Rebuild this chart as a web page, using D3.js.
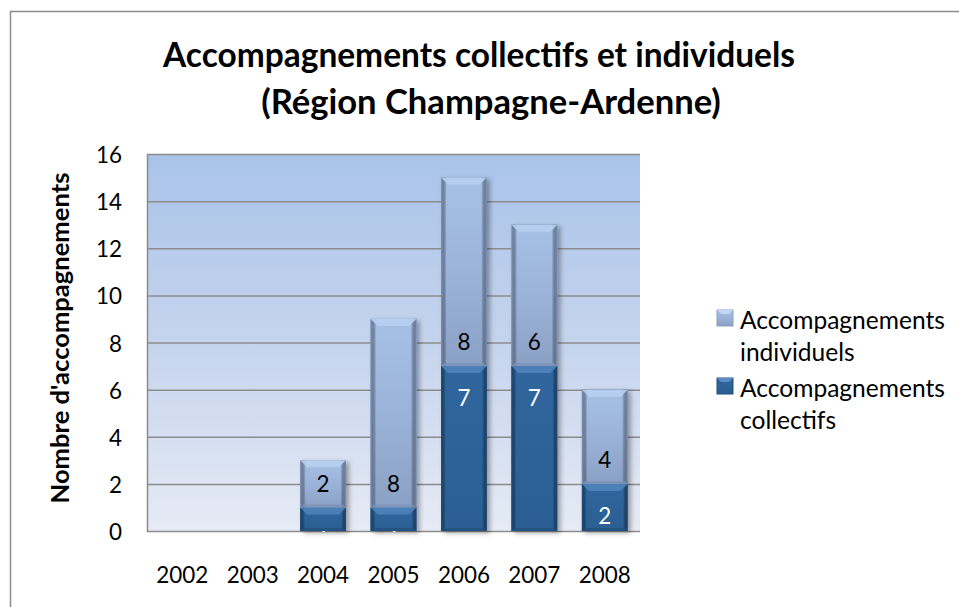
<!DOCTYPE html>
<html><head><meta charset="utf-8">
<script src="https://cdn.jsdelivr.net/npm/d3@7"></script>
<style>html,body{margin:0;padding:0;background:#fff;}svg{display:block;}</style>
</head><body>
<script>
const years = ["2002","2003","2004","2005","2006","2007","2008"];
const collectifs = [0,0,1,1,7,7,2];
const individuels = [0,0,2,8,8,6,4];
const yTicks = [0,2,4,6,8,10,12,14,16];
const seriesNames = ["Accompagnements collectifs","Accompagnements individuels"];
const titleLines = ["Accompagnements collectifs et individuels","(Région Champagne-Ardenne)"];
const yTitle = "Nombre d'accompagnements";

const W=959,H=607;
const FONT="Lato, 'Open Sans', sans-serif";
const svg=d3.select("body").append("svg").attr("width",W).attr("height",H);
const defs=svg.append("defs");

function fit(t,w){const l=t.node().getComputedTextLength();const fs=parseFloat(t.attr("font-size"));t.attr("font-size",fs*w/l);}

// number font size fitted so "2002" spans ~52px
const probe=svg.append("text").attr("font-family",FONT).attr("font-size",20).text(years[0]);
fit(probe,52);
const NFS=parseFloat(probe.attr("font-size"));
probe.remove();

// frame
svg.append("rect").attr("x",10.5).attr("y",11.5).attr("width",W+20).attr("height",H+20)
  .attr("fill","#fff").attr("stroke","#8e8e8e").attr("stroke-width",1.5);

const x=d3.scaleBand().domain(years).range([147,640]).paddingInner(0.35).paddingOuter(0.175);
const y=d3.scaleLinear().domain([0,16]).range([531,154]);

// plot bg
const bg=defs.append("linearGradient").attr("id","bg").attr("x1",0).attr("y1",0).attr("x2",0).attr("y2",1);
bg.append("stop").attr("offset",0).attr("stop-color","#a9c3e9");
bg.append("stop").attr("offset",0.55).attr("stop-color","#c8d6ee");
bg.append("stop").attr("offset",1).attr("stop-color","#e6ebf5");
svg.append("rect").attr("x",x.range()[0]).attr("y",y(16)).attr("width",x.range()[1]-x.range()[0]).attr("height",y(0)-y(16)).attr("fill","url(#bg)");

// grid
svg.append("g").selectAll("line").data(yTicks).join("line")
  .attr("x1",x.range()[0]).attr("x2",x.range()[1]).attr("y1",d=>y(d)+0.5).attr("y2",d=>y(d)+0.5)
  .attr("stroke","#8c8c8c").attr("stroke-width",1.5);
svg.append("line").attr("x1",x.range()[0]+0.5).attr("x2",x.range()[0]+0.5).attr("y1",y(16)).attr("y2",y(0)+1).attr("stroke","#8c8c8c").attr("stroke-width",1.5);

// gradients
function grad(id,stops,horiz){const g=defs.append("linearGradient").attr("id",id).attr("x1",0).attr("y1",0).attr("x2",horiz?1:0).attr("y2",horiz?0:1);stops.forEach(s=>g.append("stop").attr("offset",s[0]).attr("stop-color",s[1]));}
grad("gInd",[[0,"#a6c0e6"],[0.5,"#9cb3d9"],[1,"#8aa0c4"]]);
grad("gCol",[[0,"#2f669d"],[1,"#2b5f93"]]);
grad("sideInd",[[0,"#7f96ba"],[0.12,"rgba(0,0,0,0)"],[0.88,"rgba(0,0,0,0)"],[1,"#7890b4"]],true);
grad("sideCol",[[0,"#24517f"],[0.1,"rgba(0,0,0,0)"],[0.9,"rgba(0,0,0,0)"],[1,"#224d7a"]],true);
const sh=defs.append("filter").attr("id","sh").attr("x","-20%").attr("y","-10%").attr("width","150%").attr("height","130%");
sh.append("feDropShadow").attr("dx",3).attr("dy",2).attr("stdDeviation",2.5).attr("flood-color","#000").attr("flood-opacity",0.35);

const clip=defs.append("clipPath").attr("id","plotclip");
clip.append("rect").attr("x",x.range()[0]).attr("y",y(16)-2).attr("width",x.range()[1]-x.range()[0]).attr("height",y(0)-y(16)+3);

const segs=[];
years.forEach((yr,i)=>{
  segs.push({yr,s:0,y0:0,y1:collectifs[i],v:collectifs[i]});
  segs.push({yr,s:1,y0:collectifs[i],y1:collectifs[i]+individuels[i],v:individuels[i]});
});
const gBars=svg.append("g");
const shadowG=gBars.append("g").attr("filter","url(#sh)");
years.forEach((yr,i)=>{const tot=collectifs[i]+individuels[i];if(tot>0)shadowG.append("rect").attr("x",x(yr)).attr("y",y(tot)).attr("width",x.bandwidth()).attr("height",y(0)-y(tot)).attr("fill","#5a6f8f");});
segs.filter(d=>d.v>0).forEach(d=>{
  const g=gBars.append("g");
  const bx=x(d.yr),bw=x.bandwidth(),top=y(d.y1),bot=y(d.y0),h=bot-top;
  g.append("rect").attr("x",bx).attr("y",top).attr("width",bw).attr("height",h).attr("fill",d.s?"url(#gInd)":"url(#gCol)");
  g.append("rect").attr("x",bx).attr("y",top).attr("width",bw).attr("height",h).attr("fill",d.s?"url(#sideInd)":"url(#sideCol)");
  const b=Math.min(7,h/2);
  g.append("path").attr("d",`M${bx},${top}L${bx+bw},${top}L${bx+bw-b},${top+b}L${bx+b},${top+b}Z`).attr("fill",d.s?"#b8cff0":"#4f82ba").attr("opacity",0.9);
  g.append("path").attr("d",`M${bx},${bot}L${bx+bw},${bot}L${bx+bw-3},${bot-3}L${bx+3},${bot-3}Z`).attr("fill",d.s?"#7b91b5":"#234f7e").attr("opacity",0.8);
});

// labels
const lab=svg.append("g").attr("clip-path","url(#plotclip)").attr("font-family",FONT).attr("font-size",NFS).attr("text-anchor","middle");
segs.filter(d=>d.v>0).forEach(d=>{
  const cx=x(d.yr)+x.bandwidth()/2;
  const cy=d.s?y(d.y0)-24:y(d.y1)+32;
  lab.append("text").attr("x",cx).attr("y",cy).attr("dy","0.36em").attr("fill",d.s?"#000":"#fff").text(d.v);
});

// y ticks
svg.append("g").selectAll("text").data(yTicks).join("text")
  .attr("x",122).attr("y",d=>y(d)+1).attr("dy","0.36em").attr("text-anchor","end")
  .attr("font-family",FONT).attr("font-size",NFS).attr("fill","#000").text(d=>d);
// x ticks
svg.append("g").selectAll("text").data(years).join("text")
  .attr("x",d=>x(d)+x.bandwidth()/2).attr("y",575).attr("dy","0.36em").attr("text-anchor","middle")
  .attr("font-family",FONT).attr("font-size",NFS).attr("fill","#000").text(d=>d);

// title
const t1=svg.append("text").attr("x",479).attr("y",67).attr("text-anchor","middle").attr("font-family",FONT).attr("font-weight","bold").attr("font-size",30).text(titleLines[0]);
fit(t1,632);
const t2=svg.append("text").attr("x",491).attr("y",114).attr("text-anchor","middle").attr("font-family",FONT).attr("font-weight","bold").attr("font-size",30).text(titleLines[1]);
fit(t2,460);

// y title
const yt=svg.append("text").attr("transform","translate(69,338) rotate(-90)").attr("text-anchor","middle").attr("font-family",FONT).attr("font-weight","bold").attr("font-size",20).text(yTitle);
fit(yt,331);

// legend
const leg=[{name:"Accompagnements individuels",s:1,y:310},{name:"Accompagnements collectifs",s:0,y:378}];
leg.forEach(l=>{
  const g=svg.append("g");
  g.append("rect").attr("x",717).attr("y",l.y).attr("width",16).attr("height",16).attr("fill",l.s?"url(#gInd)":"url(#gCol)").attr("stroke",l.s?"#8aa0c4":"#234f7e");
  g.append("path").attr("d",`M717,${l.y}L733,${l.y}L729,${l.y+4}L721,${l.y+4}Z`).attr("fill",l.s?"#c3d6f2":"#5a8cc4");
  const parts=l.name.split(" ");
  const a=g.append("text").attr("x",740).attr("y",l.y+10).attr("dy","0.36em").attr("font-family",FONT).attr("font-size",20).text(parts[0]);
  fit(a,205);
  const fs=a.attr("font-size");
  g.append("text").attr("x",740).attr("y",l.y+42).attr("dy","0.36em").attr("font-family",FONT).attr("font-size",fs).text(parts[1]);
});
</script>
</body></html>
